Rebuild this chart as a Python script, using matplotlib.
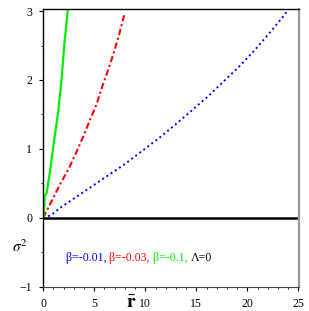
import numpy as np
import matplotlib.pyplot as plt

# values
r_b001 = [0.0, 0.78, 1.8, 3.1, 4.5, 6.2, 8.0, 9.5, 11.37, 13.0, 14.65, 16.2,
          17.75, 19.3, 20.7, 22.1, 23.4, 24.06]
s_b001 = [0.0, 0.04, 0.16, 0.29, 0.43, 0.6, 0.78, 0.95, 1.16, 1.36, 1.57, 1.77,
          1.99, 2.21, 2.43, 2.67, 2.9, 3.03]

r_b003 = [0.0, 0.4, 0.98, 1.7, 2.55, 3.27, 3.92, 4.58, 5.23, 5.72, 6.3, 6.86,
          7.42, 8.0]
s_b003 = [0.0, 0.12, 0.29, 0.5, 0.73, 0.96, 1.18, 1.42, 1.65, 1.88, 2.12, 2.37,
          2.65, 2.98]

r_b01 = [0.0, 0.07, 0.13, 0.33, 0.66, 1.05, 1.47, 1.8, 2.06, 2.42]
s_b01 = [0.0, 0.02, 0.31, 0.36, 0.67, 1.11, 1.54, 2.02, 2.51, 3.04]

legend_parts = [("β=-0.01, ", "#0000ff"), ("β=-0.03, ", "#ff0000"),
                ("β=-0.1, ", "#00ee00"), ("Λ=0", "black")]

plt.rcParams['font.family'] = ['Liberation Serif', 'DejaVu Serif']
plt.rcParams['mathtext.fontset'] = 'stix'

fig = plt.figure(figsize=(3.09, 3.11), dpi=100)
ax = fig.add_axes([0.140, 0.078, 0.829, 0.892])

ax.plot(r_b001, s_b001, color='#0000ff', lw=1.4, linestyle=(0, (1, 1.6)))
ax.plot(r_b003, s_b003, color='#ff0000', lw=1.5, linestyle=(0, (3, 1.4, 1, 1.4)))
ax.plot(r_b01, s_b01, color='#00ee00', lw=1.6)
ax.axhline(0, color='black', lw=1.8)

ax.set_xlim(0, 25.1)
ax.set_ylim(-1, 3.025)
ax.set_xticks([0, 5, 10, 15, 20, 25])
ax.set_xticks(np.arange(0, 26, 1), minor=True)
ax.set_yticks([-1, 0, 1, 2, 3])
ax.set_yticks([-0.5, 0.5, 1.5, 2.5], minor=True)
ax.tick_params(labelsize=8.5, length=3, width=0.8, pad=5)
ax.tick_params(which='minor', length=1.5, width=0.6)
ax.set_yticklabels(['\u22121', '0', '1', '2', '3'])

for s in ['left', 'top']:
    ax.spines[s].set_color('black')
    ax.spines[s].set_linewidth(1.0)
ax.spines['bottom'].set_color('#444444')
ax.spines['bottom'].set_linewidth(0.8)
ax.spines['right'].set_color('#999999')
ax.spines['right'].set_linewidth(1.6)

# coloured legend text
x = 2.2
for txt, col in legend_parts:
    t = ax.text(x, -0.58, txt, color=col, fontsize=8.6, va='center', ha='left')
    fig.canvas.draw()
    bb = t.get_window_extent()
    inv = ax.transData.inverted()
    x = inv.transform((bb.x1, bb.y0))[0]

fig.text(12 / 309, 1 - 247 / 311, r'$\sigma^2$', fontsize=11, ha='left', va='center')
fig.text(131 / 309, 1 - 303 / 311, r'$\bar{\mathbf{r}}$', fontsize=14, ha='center', va='center')

fig.savefig('out.png', dpi=100)
